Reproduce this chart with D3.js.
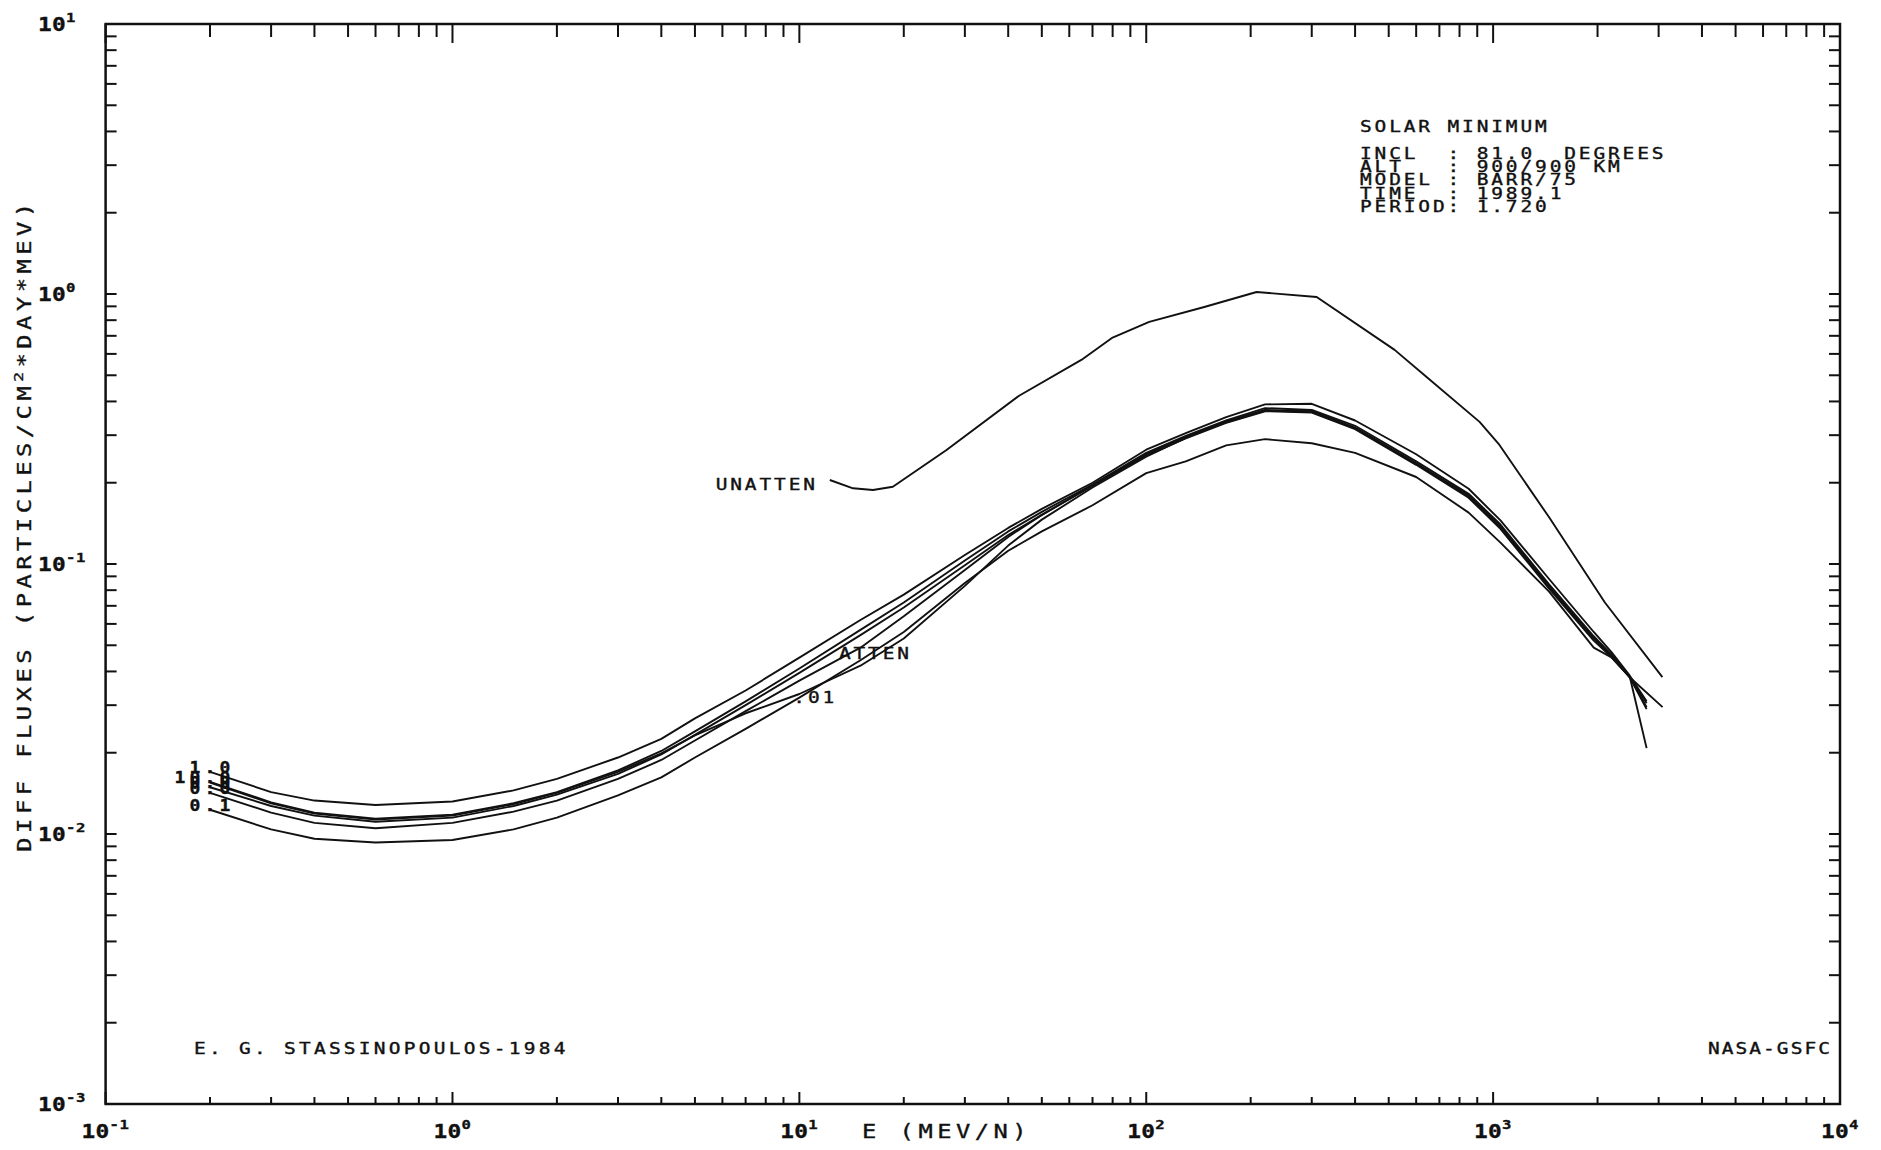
<!DOCTYPE html>
<html><head><meta charset="utf-8">
<script src="https://cdn.jsdelivr.net/npm/d3@7"></script>
<style>
html,body{margin:0;padding:0;background:#fff;}
svg{display:block;}
text{font-family:"DejaVu Sans Mono",monospace;fill:#111;white-space:pre;stroke:#111;stroke-width:0.35px;}
</style></head><body>
<svg id="chart" width="1881" height="1150"></svg>
<script>
// ---------------- data ----------------
const energyAtten = [0.2, 0.3, 0.4, 0.6, 1, 1.5, 2, 3, 4, 5, 7, 10, 15, 20, 30, 40, 50, 70, 100, 130, 170, 220, 300, 400, 600, 850, 1050, 1450, 1950, 2200, 2480, 2770, 3080];
const fluxA = [0.0170, 0.0143, 0.0133, 0.0128, 0.0132, 0.0145, 0.0160, 0.0192, 0.0225, 0.0268, 0.0340, 0.0450, 0.0620, 0.0770, 0.108, 0.136, 0.160, 0.200, 0.265, 0.305, 0.350, 0.390, 0.392, 0.340, 0.255, 0.190, 0.145, 0.088, 0.056, 0.047, 0.0385, 0.031, null];
const fluxB = [0.0156, 0.0131, 0.0120, 0.0114, 0.0118, 0.0130, 0.0143, 0.0172, 0.0203, 0.0240, 0.0310, 0.0410, 0.0570, 0.0720, 0.103, 0.132, 0.156, 0.197, 0.258, 0.298, 0.340, 0.378, 0.372, 0.325, 0.240, 0.182, 0.140, 0.084, 0.054, 0.046, 0.038, 0.0295, null];
const fluxC = [0.0149, 0.0127, 0.0117, 0.0111, 0.0115, 0.0127, 0.0140, 0.0167, 0.0197, 0.0233, 0.0300, 0.0395, 0.0545, 0.0690, 0.099, 0.128, 0.152, 0.195, 0.255, 0.295, 0.337, 0.372, 0.368, 0.320, 0.236, 0.178, 0.137, 0.082, 0.053, 0.045, 0.038, 0.029, null];
const fluxD = [0.0142, 0.0120, 0.0110, 0.0105, 0.0110, 0.0121, 0.0133, 0.0160, 0.0188, 0.0222, 0.0285, 0.0370, 0.0490, 0.0640, 0.095, 0.126, 0.152, 0.195, 0.252, 0.292, 0.333, 0.368, 0.364, 0.316, 0.233, 0.176, 0.135, 0.081, 0.052, 0.045, 0.038, 0.0305, null];
const fluxE = [0.0123, 0.0104, 0.0096, 0.0093, 0.0095, 0.0104, 0.0115, 0.0139, 0.0162, 0.0192, 0.0245, 0.0320, 0.0440, 0.0560, 0.085, 0.112, 0.132, 0.165, 0.217, 0.240, 0.275, 0.290, 0.280, 0.258, 0.210, 0.155, 0.120, 0.079, 0.049, 0.045, 0.038, null, 0.0295];
const fluxF = [0.0155, 0.0130, 0.0119, 0.0113, 0.0117, 0.0129, 0.0142, 0.0170, 0.0199, 0.0232, 0.0280, 0.0330, 0.0420, 0.0530, 0.083, 0.117, 0.146, 0.192, 0.250, 0.293, 0.335, 0.370, 0.366, 0.318, 0.235, 0.180, 0.138, 0.083, 0.053, 0.046, 0.038, 0.0208, null];
const attenSeries = [fluxA, fluxB, fluxC, fluxD, fluxE, fluxF];
const attenLabels = ["1.0", "10.0", "0.0", "0.0", "0.1", ".01"];

const energyUnatten = [12.24, 14.28, 16.3, 18.6, 26.5, 43, 65, 80, 102, 147, 208, 310, 520, 643, 914, 1043, 1455, 2100, 3076];
const fluxUnatten = [0.2047, 0.1907, 0.188, 0.1933, 0.264, 0.42, 0.57, 0.69, 0.788, 0.895, 1.017, 0.975, 0.621, 0.493, 0.336, 0.276, 0.148, 0.072, 0.0381];

const xTickExps = ["-1", "0", "1", "2", "3", "4"];
const yTickExps = ["1", "0", "-1", "-2", "-3"];

const infoTitle = "SOLAR MINIMUM";
const infoLines = ["INCL  : 81.0  DEGREES", "ALT   : 900/900 KM", "MODEL : BARR/75", "TIME  : 1989.1", "PERIOD: 1.720"];
const xTitle = "E (MEV/N)";
const yTitleParts = ["DIFF FLUXES (PARTICLES/CM", "2", "*DAY*MEV)"];
const authorText = "E. G. STASSINOPOULOS-1984";
const orgText = "NASA-GSFC";

// ---------------- layout ----------------
const m = {left: 105.6, right: 1840, top: 24, bottom: 1104};
const x = d3.scaleLog().domain([0.1, 10000]).range([m.left, m.right]);
const y = d3.scaleLog().domain([0.001, 10]).range([m.bottom, m.top]);
const svg = d3.select("#chart");
const ink = "#111";
const ADV = 0.602; // monospace advance in em

svg.append("rect").attr("width", 1881).attr("height", 1150).attr("fill", "#fff");

// plotter-style text: wide glyphs via horizontal scaling, fixed pitch
function ptext(parent, txt, X, Y, o) {
  o = Object.assign({size: 15, pitch: 14.6, sx: 1.3, anchor: "start", weight: "normal", rot: 0}, o || {});
  const ls = o.pitch / o.sx - ADV * o.size;
  return parent.append("text")
    .attr("transform", `translate(${X},${Y})` + (o.rot ? ` rotate(${o.rot})` : "") + ` scale(${o.sx},1)`)
    .attr("text-anchor", o.anchor).attr("font-size", o.size).attr("font-weight", o.weight)
    .style("letter-spacing", ls + "px").text(txt);
}

// frame
svg.append("rect").attr("x", m.left).attr("y", m.top)
  .attr("width", m.right - m.left).attr("height", m.bottom - m.top)
  .attr("fill", "none").attr("stroke", ink).attr("stroke-width", 2.5);

// ticks
function logTicks(lo, hi) {
  const out = [];
  for (let n = lo; n < hi; n++) for (let k = 1; k <= 9; k++) out.push(k * Math.pow(10, n));
  out.push(Math.pow(10, hi));
  return out;
}
const isMajor = v => Math.abs(Math.log10(v) - Math.round(Math.log10(v))) < 1e-9;
const tg = svg.append("g").attr("stroke", ink).attr("stroke-width", 2);
logTicks(-1, 4).forEach(v => {
  const X = x(v), maj = isMajor(v);
  tg.append("line").attr("x1", X).attr("x2", X).attr("y1", m.top).attr("y2", m.top + (maj ? 19 : 13));
  tg.append("line").attr("x1", X).attr("x2", X).attr("y1", m.bottom).attr("y2", m.bottom - (maj ? 12 : 7));
});
logTicks(-3, 1).forEach(v => {
  const Y = y(v);
  tg.append("line").attr("x1", m.left).attr("x2", m.left + 11).attr("y1", Y).attr("y2", Y);
  tg.append("line").attr("x1", m.right).attr("x2", m.right - 11).attr("y1", Y).attr("y2", Y);
});

// tick labels
function tickLabel(e, X, Y, anchor) {
  const t = ptext(svg, "10", X, Y, {size: 19, pitch: 14, sx: 1.2, anchor: anchor, weight: "bold"});
  t.append("tspan").attr("dy", -9).attr("font-size", 13).style("letter-spacing", "0.5px").text(e);
}
xTickExps.forEach(e => tickLabel(e, x(Math.pow(10, +e)), 1138, "middle"));
yTickExps.forEach(e => tickLabel(e, 38, y(Math.pow(10, +e)) + 7, "start"));

// curves
const line = d3.line().x(d => x(d[0])).y(d => y(d[1]));
const cg = svg.append("g").attr("fill", "none").attr("stroke", ink).attr("stroke-width", 1.9).attr("stroke-linejoin", "round");
attenSeries.forEach(s => {
  const pts = energyAtten.map((e, i) => [e, s[i]]).filter(d => d[1] != null);
  cg.append("path").attr("d", line(pts));
});
cg.append("path").attr("d", line(energyUnatten.map((e, i) => [e, fluxUnatten[i]])));

// curve labels
attenLabels.forEach((lab, i) => {
  const s = attenSeries[i];
  if (lab.startsWith(".")) {
    const k = energyAtten.indexOf(10);
    ptext(svg, lab, x(10) - 6, y(s[k]) + 9);
    return;
  }
  const size = 15, sx = 1.2, pitch = 15;
  const x0 = x(energyAtten[0]), y0 = y(s[0]);
  const idx = lab.indexOf(".");
  ptext(svg, lab, x0 - idx * pitch - ADV * size * sx / 2, y0 + 1, {size: size, pitch: pitch, sx: sx, weight: "bold"});
});

ptext(svg, "UNATTEN", x(energyUnatten[0]) - 12, y(fluxUnatten[0]) + 10, {anchor: "end"});
ptext(svg, "ATTEN", x(13), y(0.0445));

// info block
ptext(svg, infoTitle, 1360, 132);
infoLines.forEach((l, i) => ptext(svg, l, 1360, 159 + i * 13.2));

ptext(svg, authorText, 194, 1054, {pitch: 15});
ptext(svg, orgText, 1832, 1054, {anchor: "end", pitch: 13.8});

// axis titles
ptext(svg, xTitle, 862, 1138, {size: 19, pitch: 18.8, sx: 1.25});
const yt = ptext(svg, "", 31, 525, {size: 19, pitch: 18.8, sx: 1.25, rot: -90, anchor: "middle"});
yt.append("tspan").text(yTitleParts[0]);
yt.append("tspan").attr("dy", -8).attr("font-size", 13).text(yTitleParts[1]);
yt.append("tspan").attr("dy", 8).text(yTitleParts[2]);
</script>
</body></html>
